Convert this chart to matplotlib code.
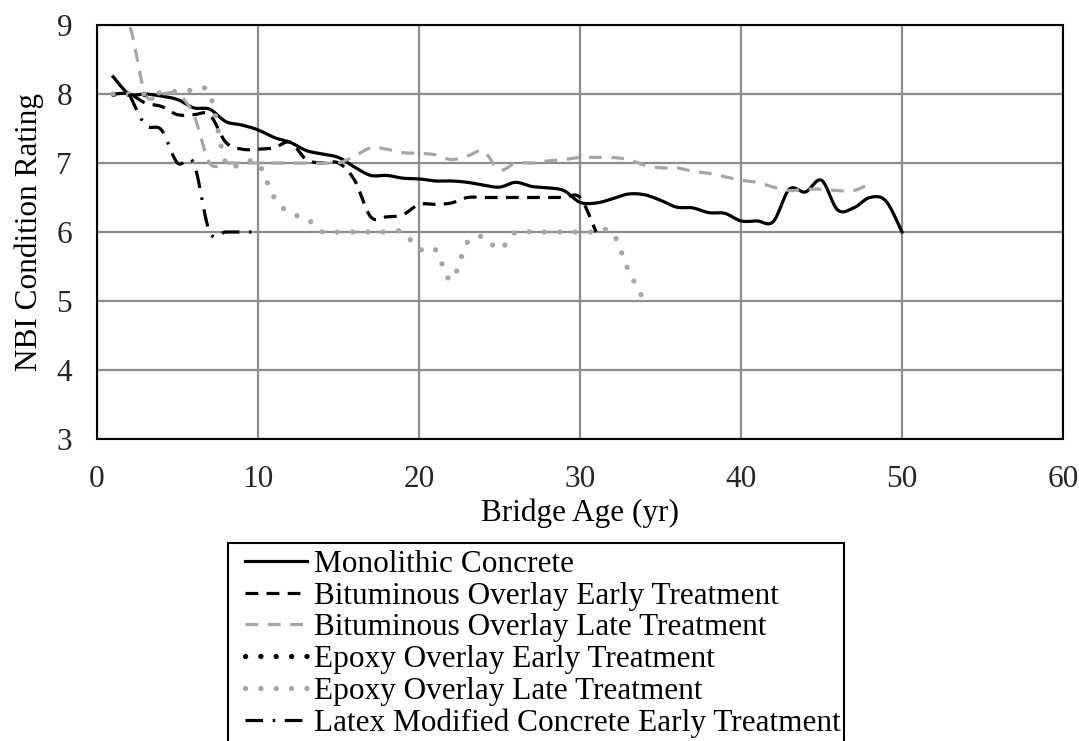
import numpy as np
import matplotlib
matplotlib.use("Agg")
import matplotlib.pyplot as plt
from matplotlib.patches import Rectangle

plt.rcParams['font.family'] = ['Liberation Serif', 'DejaVu Serif']

# ---- data ----
mono_years = list(range(1, 51))
mono_vals = [8.25, 8.0, 8.0, 7.97, 7.92, 7.8, 7.78, 7.6, 7.55, 7.48,
             7.37, 7.3, 7.18, 7.13, 7.08, 6.94, 6.82, 6.82, 6.78, 6.77,
             6.74, 6.74, 6.72, 6.68, 6.65, 6.72, 6.66, 6.64, 6.6, 6.43,
             6.42, 6.48, 6.55, 6.54, 6.46, 6.36, 6.35, 6.28, 6.27, 6.16,
             6.16, 6.15, 6.62, 6.58, 6.75, 6.32, 6.35, 6.5, 6.45, 6.0]

bit_early_years = list(range(1, 32))
bit_early_vals = [8.0, 8.0, 7.87, 7.82, 7.7, 7.7, 7.7, 7.3, 7.2, 7.2,
                  7.22, 7.3, 7.05, 7.0, 7.0, 6.75, 6.22, 6.22, 6.25, 6.4,
                  6.4, 6.42, 6.5, 6.5, 6.5, 6.5, 6.5, 6.5, 6.5, 6.5,
                  6.0]

bit_late_years = list(range(1, 49))
bit_late_vals = [9.0, 9.0, 8.0, 8.0, 8.0, 7.7, 7.0, 7.0, 7.0, 7.0,
                 7.0, 7.0, 7.0, 7.0, 7.0, 7.1, 7.22, 7.2, 7.15, 7.14,
                 7.12, 7.05, 7.1, 7.17, 6.9, 7.0, 7.0, 7.03, 7.05, 7.08,
                 7.08, 7.08, 7.05, 6.97, 6.93, 6.93, 6.88, 6.85, 6.8, 6.75,
                 6.72, 6.65, 6.6, 6.62, 6.62, 6.6, 6.6, 6.7]

epoxy_early_years = [1, 2, 3]
epoxy_early_vals = [8.0, 8.0, 8.0]

epoxy_late_years = list(range(1, 35))
epoxy_late_vals = [8.0, 8.0, 8.0, 8.02, 8.04, 8.05, 8.0, 7.0, 7.0, 7.0,
                   6.5, 6.27, 6.2, 6.0, 6.0, 6.0, 6.0, 6.0, 6.0, 5.75,
                   5.75, 5.3, 5.85, 5.93, 5.75, 6.0, 6.0, 6.0, 6.0, 6.0,
                   6.0, 6.0, 5.45, 5.0]

latex_years = [2, 3, 4, 5, 6, 7, 8, 9, 10]
latex_vals = [8.0, 7.55, 7.48, 7.0, 7.0, 6.0, 6.0, 6.0, 6.0]

labels = ["Monolithic Concrete",
          "Bituminous Overlay Early Treatment",
          "Bituminous Overlay Late Treatment",
          "Epoxy Overlay Early Treatment",
          "Epoxy Overlay Late Treatment",
          "Latex Modified Concrete Early Treatment"]

x_ticks = [0, 10, 20, 30, 40, 50, 60]
y_ticks = [3, 4, 5, 6, 7, 8, 9]


def smooth(xs, ys, n=20):
    """Catmull-Rom style smoothing (like spreadsheet smoothed lines)."""
    x = np.asarray(xs, float)
    y = np.asarray(ys, float)
    if len(x) < 3:
        return x, y
    px = np.concatenate([[x[0]], x, [x[-1]]])
    py = np.concatenate([[y[0]], y, [y[-1]]])
    ox, oy = [], []
    t = np.linspace(0, 1, n, endpoint=False)
    for i in range(1, len(px) - 2):
        p0x, p1x, p2x, p3x = px[i - 1], px[i], px[i + 1], px[i + 2]
        p0y, p1y, p2y, p3y = py[i - 1], py[i], py[i + 1], py[i + 2]
        c1x = p1x + (p2x - p0x) / 6
        c1y = p1y + (p2y - p0y) / 6
        c2x = p2x - (p3x - p1x) / 6
        c2y = p2y - (p3y - p1y) / 6
        b0 = (1 - t) ** 3
        b1 = 3 * (1 - t) ** 2 * t
        b2 = 3 * (1 - t) * t ** 2
        b3 = t ** 3
        ox.append(b0 * p1x + b1 * c1x + b2 * c2x + b3 * p2x)
        oy.append(b0 * p1y + b1 * c1y + b2 * c2y + b3 * p2y)
    ox.append([x[-1]])
    oy.append([y[-1]])
    return np.concatenate(ox), np.concatenate(oy)


W, H = 1079, 741
fig = plt.figure(figsize=(W / 100, H / 100), dpi=100)
ax = fig.add_axes([97 / W, 1 - 439 / H, (1063 - 97) / W, (439 - 25) / H])

gray = '#a6a6a6'
lw = 2.3
FS = 22.5

series = [
    (mono_years, mono_vals, dict(color='black', lw=lw, linestyle='-')),
    (bit_early_years, bit_early_vals, dict(color='black', lw=lw, linestyle=(0, (4.0, 2.6)))),
    (bit_late_years, bit_late_vals, dict(color=gray, lw=lw, linestyle=(0, (4.0, 3.0)))),
    (epoxy_early_years, epoxy_early_vals, dict(color='black', lw=3.8, linestyle=(0, (0.01, 2.9)),
                                               dash_capstyle='round')),
    (epoxy_late_years, epoxy_late_vals, dict(color=gray, lw=3.8, linestyle=(0, (0.01, 2.9)),
                                             dash_capstyle='round')),
    (latex_years, latex_vals, dict(color='black', lw=lw, linestyle=(0, (5.5, 3.0, 0.8, 3.0)))),
]

handles = []
for (xs, ys, st), lab in zip(series, labels):
    sx, sy = smooth(xs, ys)
    h, = ax.plot(sx, sy, label=lab, **st)
    handles.append(h)

ax.set_xlim(0, 60)
ax.set_ylim(3, 9)
ax.set_xticks(x_ticks)
ax.set_yticks(y_ticks)
ax.tick_params(axis='both', length=0, labelsize=FS, colors='#262626')
ax.tick_params(axis='x', pad=19)
ax.tick_params(axis='y', pad=18)
ax.grid(True, color='#8c8c8c', linewidth=1.6)
ax.set_axisbelow(True)
for s in ax.spines.values():
    s.set_color('black')
    s.set_linewidth(1.5)

ax.set_xlabel("Bridge Age (yr)", fontsize=FS, labelpad=3)
ax.set_ylabel("NBI Condition Rating", fontsize=FS, labelpad=9)

# legend frame (extends past the bottom edge, as in the reference)
frame = Rectangle((228 / W, -0.05), (844 - 228) / W, (1 - 543 / H) + 0.05,
                  transform=fig.transFigure, fill=True, facecolor='white',
                  edgecolor='black', linewidth=1.5, zorder=1)
fig.patches.append(frame)

leg = fig.legend(handles=handles, labels=labels, loc='upper left',
                 bbox_to_anchor=(241 / W, 1 - 546 / H), fontsize=FS,
                 frameon=False,
                 handlelength=2.0, handletextpad=0.22, labelspacing=0.09,
                 borderpad=0.12, borderaxespad=0.0)
leg.set_zorder(2)

fig.savefig("out.png", dpi=100)
